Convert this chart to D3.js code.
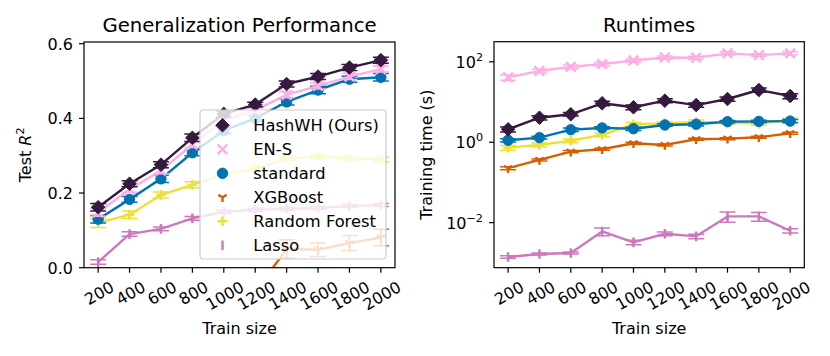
<!DOCTYPE html>
<html lang="en">
<head>
    <meta charset="UTF-8">
    <title>Generalization Performance and Runtimes</title>
    <script src="https://d3js.org/d3.v7.min.js"></script>
    <style>
        body {
            margin: 0;
            padding: 0;
            background: #fff;
            overflow: hidden;
        }
        svg {
            display: block;
            font-family: "DejaVu Sans", sans-serif;
        }
    </style>
</head>
<body>
    <svg id="chart" width="830" height="356"></svg>

    <script>
        // data
        const trainSizes = [200, 400, 600, 800, 1000, 1200, 1400, 1600, 1800, 2000];
        const methods = ["HashWH (Ours)", "EN-S", "standard", "XGBoost", "Random Forest", "Lasso"];
        const colors = ["#35193e", "#fbafe4", "#0173b2", "#d55e00", "#ece133", "#cc78bc"];
        const markers = ["D", "x", "o", "1", "+", "|"];

        // Test R^2 (left panel)
        const r2HashWH   = [0.162, 0.225, 0.276, 0.348, 0.412, 0.437, 0.492, 0.512, 0.536, 0.556];
        const r2ENS      = [0.148, 0.210, 0.260, 0.330, 0.395, 0.422, 0.463, 0.487, 0.512, 0.532];
        const r2Standard = [0.130, 0.183, 0.238, 0.308, 0.367, 0.400, 0.444, 0.476, 0.505, 0.510];
        const r2XGBoost  = [-0.60, -0.45, -0.35, -0.25, -0.15, -0.065, 0.050, 0.048, 0.066, 0.081];
        const r2Forest   = [0.120, 0.142, 0.195, 0.222, 0.250, 0.265, 0.293, 0.297, 0.293, 0.290];
        const r2Lasso    = [0.015, 0.090, 0.104, 0.132, 0.150, 0.155, 0.158, 0.160, 0.165, 0.168];

        const r2ErrHashWH   = [0.010, 0.008, 0.008, 0.010, 0.008, 0.006, 0.008, 0.008, 0.008, 0.008];
        const r2ErrENS      = [0.010, 0.008, 0.008, 0.008, 0.008, 0.006, 0.008, 0.008, 0.008, 0.008];
        const r2ErrStandard = [0.010, 0.008, 0.010, 0.008, 0.008, 0.008, 0.008, 0.010, 0.008, 0.010];
        const r2ErrXGBoost  = [0.050, 0.040, 0.040, 0.030, 0.030, 0.030, 0.025, 0.018, 0.020, 0.022];
        const r2ErrForest   = [0.012, 0.010, 0.008, 0.008, 0.006, 0.006, 0.006, 0.006, 0.006, 0.006];
        const r2ErrLasso    = [0.006, 0.006, 0.005, 0.005, 0.004, 0.004, 0.004, 0.004, 0.004, 0.004];

        // Training time in seconds (right panel)
        const tHashWH   = [2.1, 4.07, 4.96, 9.3, 7.4, 10.8, 8.4, 11.9, 19.9, 14.1];
        const tENS      = [41, 59, 75, 88, 108, 128, 126, 162, 147, 162];
        const tStandard = [1.12, 1.3, 2.05, 2.27, 2.17, 2.69, 2.8, 3.25, 3.3, 3.35];
        const tXGBoost  = [0.226, 0.363, 0.585, 0.67, 0.944, 0.857, 1.19, 1.23, 1.33, 1.67];
        const tForest   = [0.73, 0.86, 1.09, 1.52, 2.8, 2.95, 3.2, 3.1, 2.9, 3.6];
        const tLasso    = [0.0014, 0.00166, 0.00176, 0.00605, 0.00323, 0.0053, 0.00457, 0.0143, 0.0143, 0.0063];

        const tErrHashWH   = [0.3, 0.5, 0.5, 1.2, 1.0, 1.2, 1.0, 1.5, 2.5, 2.0];
        const tErrENS      = [6, 6, 8, 9, 10, 12, 12, 15, 12, 15];
        const tErrStandard = [0.1, 0.1, 0.2, 0.15, 0.2, 0.2, 0.25, 0.2, 0.2, 0.3];
        const tErrXGBoost  = [0.02, 0.02, 0.04, 0.04, 0.06, 0.05, 0.07, 0.07, 0.08, 0.1];
        const tErrForest   = [0.1, 0.1, 0.12, 0.15, 0.3, 0.3, 0.35, 0.3, 0.3, 0.4];
        const tErrLasso    = [0.0001, 0.0001, 0.0001, 0.0013, 0.0004, 0.0006, 0.0006, 0.004, 0.0035, 0.0008];

        const r2Ticks = [0.0, 0.2, 0.4, 0.6];
        const timeTicks = [1e-2, 1e0, 1e2];

        const r2Series = [r2HashWH, r2ENS, r2Standard, r2XGBoost, r2Forest, r2Lasso];
        const r2Errors = [r2ErrHashWH, r2ErrENS, r2ErrStandard, r2ErrXGBoost, r2ErrForest, r2ErrLasso];
        const tSeries = [tHashWH, tENS, tStandard, tXGBoost, tForest, tLasso];
        const tErrors = [tErrHashWH, tErrENS, tErrStandard, tErrXGBoost, tErrForest, tErrLasso];

        const svg = d3.select("#chart");
        const FS = 16;        // base font size (px)
        const CAP = 0.73 * FS; // digit / cap height
        const LW = 2.4;       // line width
        const MS = 9.6;       // marker size

        // marker paths centred on 0,0
        function markerPath(type) {
            const h = MS / 2;
            if (type === "D") {
                const r = MS / Math.SQRT2;
                return `M0,${-r}L${r},0L0,${r}L${-r},0Z`;
            }
            if (type === "o") {
                const r = MS / 2 + 0.4;
                return `M${r},0A${r},${r} 0 1,1 ${-r},0A${r},${r} 0 1,1 ${r},0Z`;
            }
            if (type === "x") return `M${-h},${-h}L${h},${h}M${-h},${h}L${h},${-h}`;
            if (type === "+") return `M${-h},0L${h},0M0,${-h}L0,${h}`;
            if (type === "|") return `M0,${-h}L0,${h}`;
            if (type === "1") {
                return `M0,0L0,${h}M0,0L${-h * 0.866},${-h * 0.5}M0,0L${h * 0.866},${-h * 0.5}`;
            }
            return "";
        }

        function drawMarker(g, type, color, x, y) {
            const filled = (type === "D" || type === "o");
            g.append("path")
                .attr("d", markerPath(type))
                .attr("transform", `translate(${x},${y})`)
                .attr("fill", filled ? color : "none")
                .attr("stroke", color)
                .attr("stroke-width", filled ? 1 : LW);
        }

        function drawPanel(opts) {
            const { left, right, top, bottom, x, y, series, errors, id } = opts;

            svg.append("clipPath").attr("id", id)
                .append("rect")
                .attr("x", left).attr("y", top)
                .attr("width", right - left).attr("height", bottom - top);

            const plot = svg.append("g").attr("clip-path", `url(#${id})`);

            // draw bottom of the legend list first so HashWH ends up on top
            for (let k = series.length - 1; k >= 0; k--) {
                const vals = series[k];
                const errs = errors[k];
                const color = colors[k];
                const pts = trainSizes.map((s, i) => ({ s: s, v: vals[i], e: errs[i] }));
                const g = plot.append("g");

                // error bars
                pts.forEach(p => {
                    const y1 = y(p.v - p.e), y2 = y(p.v + p.e), xx = x(p.s);
                    g.append("line")
                        .attr("x1", xx).attr("x2", xx).attr("y1", y1).attr("y2", y2)
                        .attr("stroke", color).attr("stroke-width", 1.8);
                    [y1, y2].forEach(yc => {
                        g.append("line")
                            .attr("x1", xx - 8).attr("x2", xx + 8).attr("y1", yc).attr("y2", yc)
                            .attr("stroke", color).attr("stroke-width", 1.5);
                    });
                });

                const line = d3.line().x(d => x(d.s)).y(d => y(d.v));
                g.append("path")
                    .datum(pts)
                    .attr("d", line)
                    .attr("fill", "none")
                    .attr("stroke", color)
                    .attr("stroke-width", LW)
                    .attr("stroke-linejoin", "round");

                pts.forEach(p => drawMarker(g, markers[k], color, x(p.s), y(p.v)));
            }

            // frame
            svg.append("rect")
                .attr("x", left).attr("y", top)
                .attr("width", right - left).attr("height", bottom - top)
                .attr("fill", "none").attr("stroke", "#000").attr("stroke-width", 1.2);

            // x ticks, labels rotated 30 degrees
            const xa = svg.append("g");
            trainSizes.forEach(s => {
                const xx = x(s);
                xa.append("line")
                    .attr("x1", xx).attr("x2", xx).attr("y1", bottom).attr("y2", bottom + 5)
                    .attr("stroke", "#000").attr("stroke-width", 1.2);
                const t = xa.append("g");
                const txt = t.append("text")
                    .attr("text-anchor", "middle")
                    .attr("font-size", FS)
                    .attr("y", CAP / 2)
                    .text(s);
                const w = txt.node().getComputedTextLength();
                const inkH = w * 0.5 + CAP * 0.866;
                const cy = bottom + 12.5 + inkH / 2;
                t.attr("transform", `translate(${xx + 1},${cy}) rotate(-30)`);
            });

            svg.append("text")
                .attr("x", (left + right) / 2).attr("y", 334)
                .attr("text-anchor", "middle")
                .attr("font-size", FS)
                .text("Train size");
        }

        // ---- left panel: Test R^2
        const L = { left: 84, right: 395, top: 42, bottom: 267.7 };
        const xLeft = d3.scaleLinear().domain([110, 2090]).range([L.left, L.right]);
        const yLeft = d3.scaleLinear().domain([0, 0.6046]).range([L.bottom, L.top]);

        drawPanel(Object.assign({ x: xLeft, y: yLeft, series: r2Series, errors: r2Errors, id: "clipL" }, L));

        r2Ticks.forEach(v => {
            const yy = yLeft(v);
            svg.append("line")
                .attr("x1", L.left - 5).attr("x2", L.left).attr("y1", yy).attr("y2", yy)
                .attr("stroke", "#000").attr("stroke-width", 1.2);
            svg.append("text")
                .attr("x", L.left - 11).attr("y", yy + CAP / 2)
                .attr("text-anchor", "end")
                .attr("font-size", FS)
                .text(v.toFixed(1));
        });

        const yl = svg.append("text")
            .attr("transform", `translate(31,${(L.top + L.bottom) / 2}) rotate(-90)`)
            .attr("text-anchor", "middle")
            .attr("font-size", FS);
        yl.append("tspan").text("Test ");
        yl.append("tspan").attr("font-style", "italic").text("R");
        yl.append("tspan").attr("font-size", FS * 0.7).attr("dy", -7).text("2");

        svg.append("text")
            .attr("x", (L.left + L.right) / 2).attr("y", 31.5)
            .attr("text-anchor", "middle")
            .attr("font-size", 19.7)
            .text("Generalization Performance");

        // legend, lower right of the left panel
        const lg = svg.append("g");
        lg.append("rect")
            .attr("x", 200).attr("y", 110).attr("width", 186).attr("height", 149)
            .attr("rx", 3.5)
            .attr("fill", "#fff").attr("fill-opacity", 0.8)
            .attr("stroke", "#cccccc").attr("stroke-width", 1.2);
        methods.forEach((m, k) => {
            const yy = 125.3 + k * 24;
            drawMarker(lg, markers[k], colors[k], 222.5, yy);
            lg.append("text")
                .attr("x", 253.3).attr("y", yy + CAP / 2)
                .attr("font-size", 16.3)
                .text(m);
        });

        // ---- right panel: runtimes (log scale)
        const R = { left: 494, right: 804.3, top: 41.7, bottom: 267.7 };
        const xRight = d3.scaleLinear().domain([110, 2090]).range([R.left, R.right]);
        const yRight = d3.scaleLog().domain([Math.pow(10, -3.12), Math.pow(10, 2.5)]).range([R.bottom, R.top]);

        drawPanel(Object.assign({ x: xRight, y: yRight, series: tSeries, errors: tErrors, id: "clipR" }, R));

        timeTicks.forEach(v => {
            const yy = yRight(v);
            svg.append("line")
                .attr("x1", R.left - 5).attr("x2", R.left).attr("y1", yy).attr("y2", yy)
                .attr("stroke", "#000").attr("stroke-width", 1.2);
            const t = svg.append("text")
                .attr("x", R.left - 11).attr("y", yy + CAP / 2)
                .attr("text-anchor", "end")
                .attr("font-size", FS);
            const p = Math.round(Math.log10(v));
            t.append("tspan").text("10");
            t.append("tspan").attr("font-size", FS * 0.7).attr("dy", -7)
                .text(p < 0 ? "\u2212" + (-p) : String(p));
        });

        svg.append("text")
            .attr("transform", `translate(432,${(R.top + R.bottom) / 2}) rotate(-90)`)
            .attr("text-anchor", "middle")
            .attr("font-size", FS)
            .text("Training time (s)");

        svg.append("text")
            .attr("x", (R.left + R.right) / 2).attr("y", 31.5)
            .attr("text-anchor", "middle")
            .attr("font-size", 19.7)
            .text("Runtimes");
    </script>
</body>
</html>
